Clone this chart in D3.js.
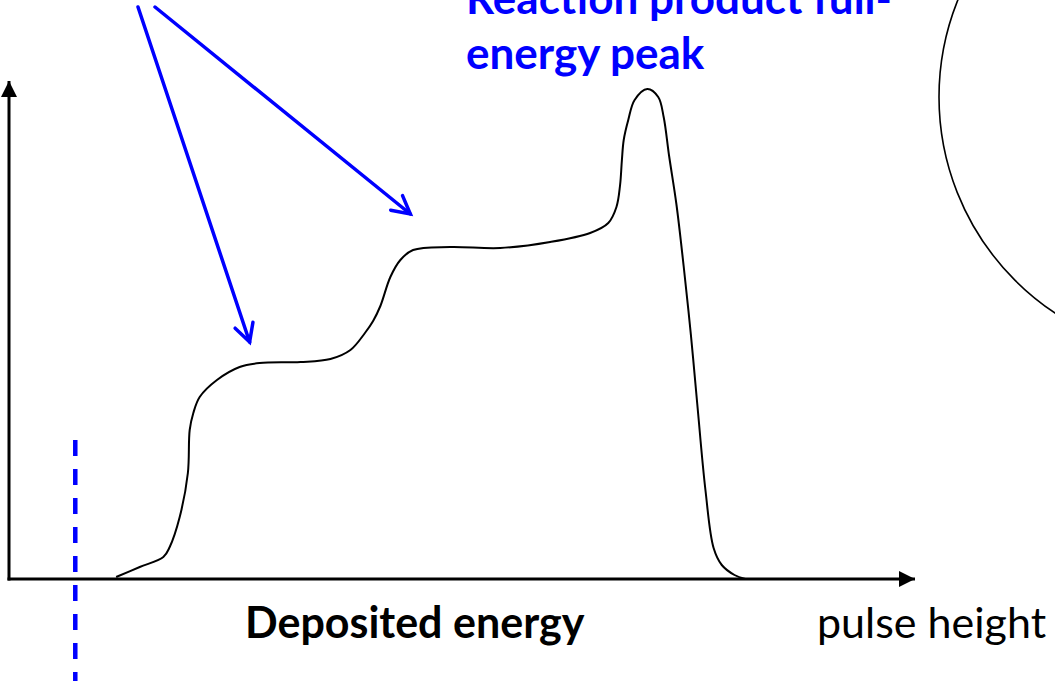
<!DOCTYPE html>
<html>
<head>
<meta charset="utf-8">
<script src="https://cdn.jsdelivr.net/npm/d3@7"></script>
<style>
  html, body { margin: 0; padding: 0; background: #fff; }
  svg { display: block; }
  text { font-family: Lato, "Open Sans", sans-serif; }
</style>
</head>
<body>
<svg id="chart" width="1055" height="681"></svg>
<script>
// Pulse-height spectrum sketch: channel (pulse height) vs counts
const channel = [118, 144, 170, 177, 188, 197, 199, 203, 210, 229, 254, 276, 321, 354, 376, 392,
                 401, 409, 420, 431, 445, 486, 541, 596, 640, 660, 669, 673, 675, 677, 682, 689,
                 703, 715, 721, 727, 735, 743, 751, 758, 767, 776, 785, 799, 811];
const counts  = [4, 24, 44, 64, 124, 212, 298, 332, 364, 398, 424, 432, 434, 440, 458, 492,
                 516, 546, 604, 638, 658, 664, 662, 674, 692, 712, 744, 788, 838, 878, 918, 958,
                 980, 964, 924, 846, 750, 626, 488, 350, 178, 62, 28, 8, 0];

// Discriminator threshold (channel)
const threshold = 73;

// Annotation arrow targets in (channel, counts)
const arrowTargets = [
  { channel: 265, counts: 474 },   // lower step (wall-effect continuum)
  { channel: 442, counts: 730 }    // upper step
];

const axisTitle = "Deposited energy";
const axisUnit = "pulse height";
const peakLabel = ["Reaction product full-", "energy peak"];

const BLUE = "#0000ff";
const svg = d3.select("#chart");

const x = d3.scaleLinear().domain([0, 1000]).range([9, 917]);
const y = d3.scaleLinear().domain([0, 1000]).range([579, 79]);

// Arrowhead markers
const defs = svg.append("defs");
defs.append("marker")
  .attr("id", "axisHead")
  .attr("viewBox", "0 0 10 10")
  .attr("refX", 10).attr("refY", 5)
  .attr("markerUnits", "userSpaceOnUse")
  .attr("markerWidth", 16).attr("markerHeight", 16)
  .attr("orient", "auto")
  .append("path").attr("d", "M0,0L10,5L0,10Z").attr("fill", "#000");

// Axes without ticks, arrow at the far end
const xAxis = svg.append("g")
  .attr("transform", `translate(0,${y(0)})`)
  .call(d3.axisBottom(x).tickValues([]).tickSizeOuter(0));
xAxis.select(".domain")
  .attr("stroke", "#000").attr("stroke-width", 3)
  .attr("d", `M${x(0) - 1.5},0H${x(1000) - 2}`)
  .attr("marker-end", "url(#axisHead)");

const yAxis = svg.append("g")
  .attr("transform", `translate(${x(0)},0)`)
  .call(d3.axisLeft(y).tickValues([]).tickSizeOuter(0));
yAxis.select(".domain")
  .attr("stroke", "#000").attr("stroke-width", 3)
  .attr("d", `M0,${y(0) + 1.5}V${y(1000) + 2}`)
  .attr("marker-end", "url(#axisHead)");

// Spectrum curve
const pts = channel.map((c, i) => [c, counts[i]]);
const line = d3.line()
  .x(d => x(d[0]))
  .y(d => y(d[1]))
  .curve(d3.curveCatmullRom.alpha(0.5));
svg.append("path")
  .datum(pts)
  .attr("d", line)
  .attr("fill", "none")
  .attr("stroke", "#000")
  .attr("stroke-width", 2)
  .attr("stroke-linejoin", "round");

// Threshold: dashed blue vertical line
svg.append("line")
  .attr("x1", x(threshold)).attr("x2", x(threshold))
  .attr("y1", 440).attr("y2", 681)
  .attr("stroke", BLUE)
  .attr("stroke-width", 4.5)
  .attr("stroke-dasharray", "16,13");

// Blue annotation arrows with open heads
const starts = [[138, 7], [155, 7]];
arrowTargets.forEach((t, i) => {
  const [sx, sy] = starts[i];
  const tx = x(t.channel), ty = y(t.counts);
  svg.append("line")
    .attr("x1", sx).attr("y1", sy).attr("x2", tx).attr("y2", ty)
    .attr("stroke", BLUE).attr("stroke-width", 3.5).attr("stroke-linecap", "round");
  const ang = Math.atan2(ty - sy, tx - sx);
  const len = 20, spread = Math.PI / 180 * 28;
  const w1 = [tx - len * Math.cos(ang - spread), ty - len * Math.sin(ang - spread)];
  const w2 = [tx - len * Math.cos(ang + spread), ty - len * Math.sin(ang + spread)];
  svg.append("path")
    .attr("d", `M${w1[0]},${w1[1]}L${tx},${ty}L${w2[0]},${w2[1]}`)
    .attr("fill", "none").attr("stroke", BLUE).attr("stroke-width", 3.5)
    .attr("stroke-linecap", "round").attr("stroke-linejoin", "miter");
});

// Peak label
svg.append("text")
  .attr("x", 466).attr("y", 14)
  .attr("fill", BLUE).attr("font-weight", "bold").attr("font-size", 44)
  .text(peakLabel[0]);
svg.append("text")
  .attr("x", 466).attr("y", 69)
  .attr("fill", BLUE).attr("font-weight", "bold").attr("font-size", 44)
  .text(peakLabel[1]);

// Axis labels
svg.append("text")
  .attr("x", 245).attr("y", 638)
  .attr("font-weight", "bold").attr("font-size", 43)
  .text(axisTitle);
svg.append("text")
  .attr("x", 817).attr("y", 638)
  .attr("font-size", 43)
  .text(axisUnit);

// Large circle partly off the right edge
svg.append("circle")
  .attr("cx", 1198).attr("cy", 97).attr("r", 259)
  .attr("fill", "none").attr("stroke", "#000").attr("stroke-width", 1.6);
</script>
</body>
</html>
